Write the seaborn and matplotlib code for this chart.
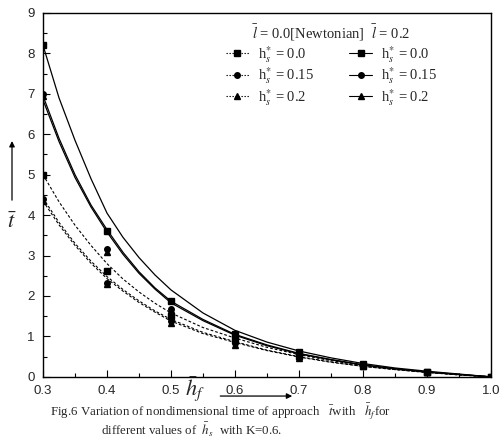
import numpy as np
import pandas as pd
import matplotlib
matplotlib.use("Agg")
import matplotlib.pyplot as plt
from matplotlib.lines import Line2D
import seaborn as sns

# curve readings (denser on the steep left part)
curve_x = [0.300, 0.325, 0.350, 0.375, 0.400, 0.425, 0.450, 0.475, 0.500,
           0.55, 0.60, 0.65, 0.70, 0.75, 0.80, 0.85, 0.90, 0.95, 1.00]
solid_h00 = [8.2, 6.9, 5.85, 4.9, 4.05, 3.45, 2.95, 2.52, 2.15,
             1.58, 1.15, 0.86, 0.64, 0.47, 0.33, 0.22, 0.14, 0.07, 0.0]
solid_h15 = [6.95, 5.9, 5.0, 4.25, 3.64, 3.08, 2.6, 2.2, 1.87,
             1.42, 1.05, 0.79, 0.58, 0.43, 0.30, 0.20, 0.12, 0.06, 0.0]
solid_h20 = [6.85, 5.82, 4.93, 4.2, 3.58, 3.03, 2.56, 2.17, 1.83,
             1.39, 1.03, 0.77, 0.57, 0.42, 0.29, 0.20, 0.12, 0.06, 0.0]
dash_h00 = [5.0, 4.33, 3.75, 3.25, 2.8, 2.42, 2.1, 1.82, 1.58,
            1.22, 0.96, 0.73, 0.55, 0.40, 0.28, 0.19, 0.12, 0.05, 0.0]
dash_h15 = [4.42, 3.82, 3.3, 2.86, 2.48, 2.16, 1.88, 1.63, 1.42,
            1.1, 0.87, 0.66, 0.50, 0.37, 0.26, 0.18, 0.11, 0.05, 0.0]
dash_h20 = [4.35, 3.76, 3.25, 2.81, 2.43, 2.12, 1.84, 1.6, 1.38,
            1.07, 0.85, 0.65, 0.49, 0.36, 0.26, 0.18, 0.11, 0.05, 0.0]

# marker readings
mark_x = [0.3, 0.4, 0.5, 0.6, 0.7, 0.8, 0.9, 1.0]
m_solid_h00 = [8.2, 3.6, 1.88, 1.07, 0.62, 0.31, 0.13, 0.0]
m_solid_h15 = [7.0, 3.15, 1.68, 0.97, 0.57, 0.30, 0.13, 0.0]
m_solid_h20 = [6.95, 3.1, 1.65, 0.95, 0.55, 0.29, 0.12, 0.0]
m_dash_h00 = [5.0, 2.62, 1.5, 0.90, 0.52, 0.28, 0.12, 0.0]
m_dash_h15 = [4.4, 2.33, 1.37, 0.83, 0.48, 0.27, 0.12, 0.0]
m_dash_h20 = [4.35, 2.3, 1.33, 0.80, 0.46, 0.26, 0.11, 0.0]

hs_labels = ["0.0", "0.15", "0.2"]
markers = ["s", "o", "^"]

sns.set_style("ticks")
plt.rcParams["font.family"] = ["Liberation Sans", "DejaVu Sans"]
plt.rcParams["mathtext.fontset"] = "stix"

fig = plt.figure(figsize=(5.0, 4.46), dpi=100)
ax = fig.add_axes([0.086, 0.155, 0.896, 0.816])

solid_curves = [solid_h00, solid_h15, solid_h20]
dash_curves = [dash_h00, dash_h15, dash_h20]
solid_marks = [m_solid_h00, m_solid_h15, m_solid_h20]
dash_marks = [m_dash_h00, m_dash_h15, m_dash_h20]

for ys in solid_curves:
    sns.lineplot(x=curve_x, y=ys, ax=ax, color="black", linewidth=0.9, sort=False)
for ys in dash_curves:
    l = sns.lineplot(x=curve_x, y=ys, ax=ax, color="black", linewidth=0.8, sort=False)
    l.lines[-1].set_dashes((2.5, 1.8))

for ys, m in zip(solid_marks + dash_marks, markers + markers):
    ax.plot(mark_x, ys, linestyle="none", marker=m, color="black", markersize=4)

ax.set_xlim(0.3, 1.0)
ax.set_ylim(0, 9)
ax.set_xticks(np.arange(0.3, 1.01, 0.1))
ax.set_xticklabels(["0.3", "0.4", "0.5", "0.6", "0.7", "0.8", "0.9", "1.0"])
ax.set_xticks(np.arange(0.35, 1.0, 0.1), minor=True)
ax.set_yticks(range(0, 10))
ax.set_yticks(np.arange(0.5, 9, 1.0), minor=True)
ax.tick_params(which="both", direction="in", color="black", width=0.8, labelsize=9.5, pad=6)
ax.tick_params(which="major", length=5)
ax.tick_params(which="minor", length=3)
for s in ax.spines.values():
    s.set_visible(True)
    s.set_linewidth(1.0)
    s.set_color("black")
ax.set_xlabel("")
ax.set_ylabel("")

handles = []
labels = []
for ls in ["dashed", "solid"]:
    for m, h in zip(markers, hs_labels):
        ln = Line2D([], [], color="black", marker=m, markersize=4, linewidth=0.8,
                    linestyle=(0, (1.2, 1.5)) if ls == "dashed" else "-")
        handles.append(ln)
        labels.append(r"h$^{*}_{s}$ = " + h)

leg = ax.legend(handles, labels, ncol=2, loc="upper left", bbox_to_anchor=(0.395, 0.99),
                borderaxespad=0, frameon=False, handlelength=1.6, handletextpad=0.6,
                columnspacing=2.4, labelspacing=0.05,
                title=r"$\bar{l}$ = 0.0[Newtonian]  $\bar{l}$ = 0.2",
                prop={"family": "Liberation Serif", "size": 10.5})
leg.get_title().set_fontfamily("Liberation Serif")
leg.get_title().set_fontsize(10.5)

# axis labels with arrows
fig.text(0.024, 0.500, r"$\bar{t}$", fontsize=16, ha="center", va="center")
ax.annotate("", xy=(0.024, 0.69), xytext=(0.024, 0.545), xycoords="figure fraction",
            textcoords="figure fraction", annotation_clip=False,
            arrowprops=dict(arrowstyle="-|>", color="black", lw=0.9, mutation_scale=8))
fig.text(0.39, 0.128, r"$\bar{h}_f$", fontsize=16, ha="center", va="center")
ax.annotate("", xy=(0.59, 0.112), xytext=(0.435, 0.112), xycoords="figure fraction",
            textcoords="figure fraction", annotation_clip=False,
            arrowprops=dict(arrowstyle="-|>", color="black", lw=0.9, mutation_scale=8))

fig.text(0.44, 0.076,
         r"Fig.6 Variation of nondimensional time of approach   $\bar{t}$with   $\bar{h}_f$for",
         ha="center", va="center", fontsize=9.3, family="Liberation Serif")
fig.text(0.384, 0.036, r"different values of  $\bar{h}_s$  with K=0.6.",
         ha="center", va="center", fontsize=9.3, family="Liberation Serif")

fig.savefig("out.png", dpi=100)
